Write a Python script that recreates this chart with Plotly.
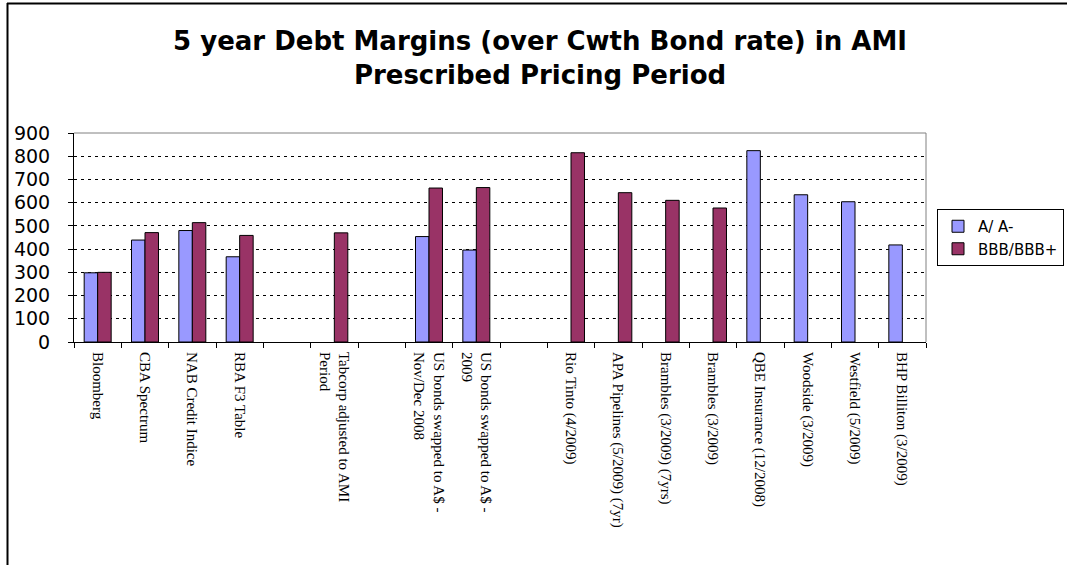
import plotly.graph_objects as go

categories = [
    "Bloomberg", "CBA Spectrum", "NAB Credit Indice", "RBA F3 Table", " ",
    "Tabcorp adjusted to AMI<br>Period", "  ",
    "US bonds swapped to A$ -<br>Nov/Dec 2008", "US bonds swapped to A$ -<br>2009", "   ",
    "Rio Tinto (4/2009)", "APA Pipelines (5/2009) (7yr)", "Brambles (3/2009) (7yrs)",
    "Brambles (3/2009)", "QBE Insurance (12/2008)", "Woodside (3/2009)",
    "Westfield (5/2009)", "BHP Billiton (3/2009)",
]
a_rating = [298, 439, 480, 367, None, None, None, 454, 396, None,
            None, None, None, None, 824, 634, 604, 418]
bbb_rating = [300, 471, 514, 459, None, 470, None, 663, 665, None,
              815, 643, 610, 577, None, None, None, None]
series_names = ["A/ A-", "BBB/BBB+"]
y_ticks = [0, 100, 200, 300, 400, 500, 600, 700, 800, 900]

W, H = 1067, 565
L, R, T, B = 74, 926, 133, 342

def px_x(p):
    return (p - L) / (R - L)

def px_y(p):
    return (B - p) / (B - T)

fig = go.Figure()
fig.add_trace(go.Bar(x=categories, y=a_rating, name=series_names[0],
                     marker=dict(color="#9999FF", line=dict(color="black", width=1))))
fig.add_trace(go.Bar(x=categories, y=bbb_rating, name=series_names[1],
                     marker=dict(color="#993366", line=dict(color="black", width=1))))

shapes = [
    # outer chart border (top and left)
    dict(type="line", xref="paper", yref="paper", x0=px_x(7), x1=px_x(1070), y0=px_y(3.5), y1=px_y(3.5),
         line=dict(color="black", width=2)),
    dict(type="line", xref="paper", yref="paper", x0=px_x(7.5), x1=px_x(7.5), y0=px_y(3), y1=px_y(570),
         line=dict(color="black", width=2)),
    # plot area gray border (top, right)
    dict(type="line", xref="paper", yref="paper", x0=0, x1=1, y0=1, y1=1,
         line=dict(color="#808080", width=1)),
    dict(type="line", xref="paper", yref="paper", x0=1, x1=1, y0=0, y1=1,
         line=dict(color="#808080", width=1)),
]

fig.update_layout(
    width=W, height=H,
    margin=dict(l=L, r=W - R, t=T, b=H - B, pad=0, autoexpand=False),
    paper_bgcolor="white", plot_bgcolor="white",
    barmode="group", bargap=0.43, bargroupgap=0,
    title=dict(text="<b>5 year Debt Margins (over Cwth Bond rate) in AMI<br>Prescribed Pricing Period</b>",
               x=px_x(540), xanchor="center", xref="paper", y=1 - 50 / H, yanchor="middle",
               font=dict(family="DejaVu Sans", size=26, color="black")),
    font=dict(family="DejaVu Sans", color="black"),
    legend=dict(x=px_x(937), y=px_y(209), xanchor="left", yanchor="top",
                bordercolor="black", borderwidth=1, bgcolor="white",
                font=dict(family="DejaVu Sans", size=15, color="black"),
                itemwidth=30, tracegroupgap=0),
    showlegend=True,
    shapes=shapes,
)
fig.update_xaxes(
    type="category", tickangle=90, showline=True, linecolor="black", linewidth=1,
    ticks="outside", tickson="boundaries", ticklen=5, tickcolor="black", ticklabelstandoff=6,
    tickfont=dict(family="Liberation Serif", size=15, color="black"),
    showgrid=False, zeroline=False, automargin=False,
)
fig.update_yaxes(
    range=[0, 900], tickvals=y_ticks, showline=True, linecolor="black", linewidth=1,
    ticks="outside", ticklen=5, tickcolor="black", ticklabelstandoff=14,
    tickfont=dict(family="DejaVu Sans", size=19, color="black"),
    showgrid=True, gridcolor="black", griddash="3px,4px", gridwidth=1, zeroline=False,
    automargin=False,
)

fig.write_html("out.html", config={"displayModeBar": False},
               post_script="document.body.style.margin='0';")
